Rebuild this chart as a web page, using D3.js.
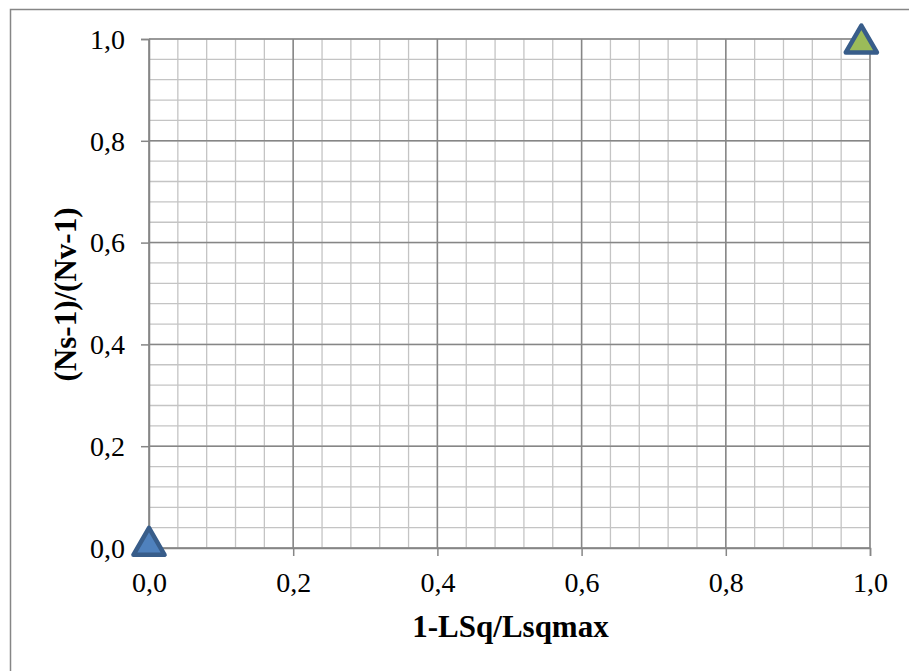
<!DOCTYPE html>
<html><head><meta charset="utf-8">
<script src="https://cdn.jsdelivr.net/npm/d3@7"></script>
<style>body{margin:0;background:#fff}svg{display:block}</style>
</head><body>
<svg id="c" width="909" height="671"></svg>
<script>
const xTitle = "1-LSq/Lsqmax";
const yTitle = "(Ns-1)/(Nv-1)";
const xTicks = [0, 0.2, 0.4, 0.6, 0.8, 1.0];
const yTicks = [0, 0.2, 0.4, 0.6, 0.8, 1.0];
const seriesNames = ["Series A", "Series B"];
const seriesX = [[0.0], [0.988]];
const seriesY = [[0.013], [1.0]];
const seriesFill = ["#4F81BD", "#9BBB59"];

const svg = d3.select("#c");
const L = 149, R = 870, T = 39, B = 548;
const x = d3.scaleLinear().domain([0, 1]).range([L, R]);
const y = d3.scaleLinear().domain([0, 1]).range([B, T]);
const fmt = d => d3.format(".1f")(d).replace(".", ",");
const FONT = "Liberation Serif, Times New Roman, serif";

// outer border
svg.append("rect").attr("x", 10.5).attr("y", 9.5).attr("width", 940).attr("height", 700)
  .attr("fill", "none").attr("stroke", "#868686").attr("stroke-width", 1.5);

// minor grid
const minor = d3.range(0, 1.0001, 0.04);
const g = svg.append("g");
g.selectAll(".mx").data(minor).enter().append("line")
  .attr("x1", d => x(d)).attr("x2", d => x(d)).attr("y1", T).attr("y2", B)
  .attr("stroke", "#c4c4c4").attr("stroke-width", 1.3);
g.selectAll(".my").data(minor).enter().append("line")
  .attr("y1", d => y(d)).attr("y2", d => y(d)).attr("x1", L).attr("x2", R)
  .attr("stroke", "#c4c4c4").attr("stroke-width", 1.3);
// major grid
g.selectAll(".Mx").data(xTicks).enter().append("line")
  .attr("x1", d => x(d)).attr("x2", d => x(d)).attr("y1", T).attr("y2", B)
  .attr("stroke", "#868686").attr("stroke-width", 1.5);
g.selectAll(".My").data(yTicks).enter().append("line")
  .attr("y1", d => y(d)).attr("y2", d => y(d)).attr("x1", L).attr("x2", R)
  .attr("stroke", "#868686").attr("stroke-width", 1.5);

// axes
const xAxis = d3.axisBottom(x).tickValues(xTicks).tickFormat(fmt).tickSize(8).tickPadding(0);
const yAxis = d3.axisLeft(y).tickValues(yTicks).tickFormat(fmt).tickSize(8).tickPadding(16);
const ax = svg.append("g").attr("transform", `translate(0,${B})`).call(xAxis);
const ay = svg.append("g").attr("transform", `translate(${L},0)`).call(yAxis);
[ax, ay].forEach(a => {
  a.attr("font-size", null).attr("font-family", null);
  a.select(".domain").attr("stroke", "#868686").attr("stroke-width", 1.5);
  a.selectAll(".tick line").attr("stroke", "#868686").attr("stroke-width", 1.5);
  a.selectAll("text").style("font-family", FONT)
    .style("font-size", "28px").attr("fill", "#000");
});
ax.selectAll("text").attr("y", 44).attr("dy", null);
ay.selectAll("text").attr("dy", "0.33em");

// titles
svg.append("text").attr("x", (L + R) / 2 + 1).attr("y", 637).attr("text-anchor", "middle")
  .style("font-family", FONT).attr("font-weight", "bold")
  .style("font-size", "31px").text(xTitle);
svg.append("text").attr("transform", `translate(76,${(T + B) / 2 + 1}) rotate(-90)`).attr("text-anchor", "middle")
  .style("font-family", FONT).attr("font-weight", "bold")
  .style("font-size", "31px").text(yTitle);

// markers
const tri = d3.symbol().type(d3.symbolTriangle).size(420);
seriesNames.forEach((name, i) => {
  svg.append("g").selectAll("path").data(seriesX[i].map((v, j) => [v, seriesY[i][j]]))
    .enter().append("path")
    .attr("d", tri)
    .attr("transform", d => `translate(${x(d[0])},${y(d[1]) + 4.5})`)
    .attr("fill", seriesFill[i]).attr("stroke", "#385D8A").attr("stroke-width", 4.5)
    .attr("stroke-linejoin", "round");
});
</script>
</body></html>
